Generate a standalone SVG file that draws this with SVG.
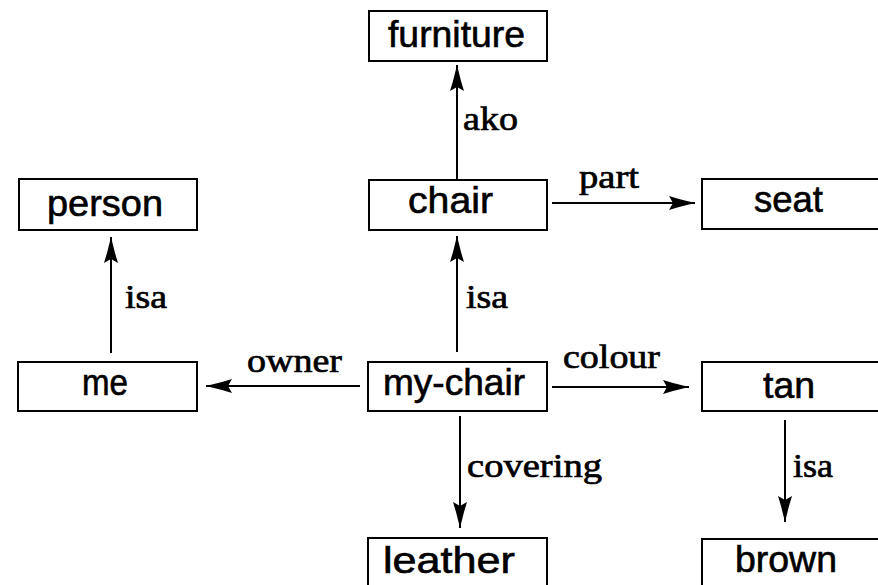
<svg xmlns="http://www.w3.org/2000/svg" width="878" height="585" viewBox="0 0 878 585">
<defs>
<style>
.box{fill:#fff;stroke:#000;stroke-width:2}
.nt{font-family:"Liberation Sans",Arial,sans-serif;font-size:36px;fill:#000;stroke:#000;stroke-width:0.6}
.lt{font-family:"Liberation Serif","Times New Roman",serif;font-size:34px;fill:#000;stroke:#000;stroke-width:0.7}
.edge{stroke:#000;stroke-width:2;fill:none;marker-end:url(#ah)}
</style>
<marker id="ah" markerUnits="userSpaceOnUse" markerWidth="30" markerHeight="16" refX="26" refY="8" orient="auto" viewBox="0 0 30 16">
<path d="M0,1 L10,4 L26,8 L10,12 L0,15 L4,8 z" fill="#000"/>
</marker>
</defs>
<rect width="878" height="585" fill="#fff"/>
<g id="connectors">
<line class="edge" x1="457" y1="180" x2="457" y2="65"/>
<line class="edge" x1="552" y1="203" x2="695" y2="203"/>
<line class="edge" x1="111" y1="353" x2="111" y2="237"/>
<line class="edge" x1="457" y1="352" x2="457" y2="236"/>
<line class="edge" x1="360" y1="386" x2="206" y2="386"/>
<line class="edge" x1="552" y1="387" x2="689" y2="387"/>
<line class="edge" x1="460" y1="416" x2="460" y2="528"/>
<line class="edge" x1="785" y1="420" x2="785" y2="522"/>
<text class="lt" x="463" y="130" textLength="55" lengthAdjust="spacingAndGlyphs">ako</text>
<text class="lt" x="579" y="188" textLength="60" lengthAdjust="spacingAndGlyphs">part</text>
<text class="lt" x="125" y="308" textLength="42" lengthAdjust="spacingAndGlyphs">isa</text>
<text class="lt" x="466" y="308" textLength="42" lengthAdjust="spacingAndGlyphs">isa</text>
<text class="lt" x="247" y="372" textLength="95" lengthAdjust="spacingAndGlyphs">owner</text>
<text class="lt" x="563" y="368" textLength="97" lengthAdjust="spacingAndGlyphs">colour</text>
<text class="lt" x="467" y="477" textLength="135" lengthAdjust="spacingAndGlyphs">covering</text>
<text class="lt" x="793" y="477" textLength="40" lengthAdjust="spacingAndGlyphs">isa</text>
</g>
<g id="furniture"><rect class="box" x="369" y="11" width="178" height="50"/><text class="nt" x="388" y="47" textLength="137" lengthAdjust="spacingAndGlyphs">furniture</text></g>
<g id="chair"><rect class="box" x="369" y="180" width="178" height="50"/><text class="nt" x="408" y="213" textLength="85" lengthAdjust="spacingAndGlyphs">chair</text></g>
<g id="seat"><rect class="box" x="702" y="179" width="178" height="50"/><text class="nt" x="754" y="212" textLength="69" lengthAdjust="spacingAndGlyphs">seat</text></g>
<g id="person"><rect class="box" x="19" y="179" width="178" height="51"/><text class="nt" x="47" y="216" textLength="116" lengthAdjust="spacingAndGlyphs">person</text></g>
<g id="me"><rect class="box" x="18" y="362" width="179" height="49"/><text class="nt" x="82" y="395" textLength="46" lengthAdjust="spacingAndGlyphs">me</text></g>
<g id="my-chair"><rect class="box" x="368" y="362" width="179" height="49"/><text class="nt" x="383" y="395" textLength="142" lengthAdjust="spacingAndGlyphs">my-chair</text></g>
<g id="tan"><rect class="box" x="702" y="362" width="178" height="49"/><text class="nt" x="763" y="398" textLength="52" lengthAdjust="spacingAndGlyphs">tan</text></g>
<g id="leather"><rect class="box" x="368" y="538" width="179" height="50"/><text class="nt" x="383" y="573" textLength="132" lengthAdjust="spacingAndGlyphs">leather</text></g>
<g id="brown"><rect class="box" x="702" y="539" width="178" height="50"/><text class="nt" x="735" y="572" textLength="102" lengthAdjust="spacingAndGlyphs">brown</text></g>
</svg>
